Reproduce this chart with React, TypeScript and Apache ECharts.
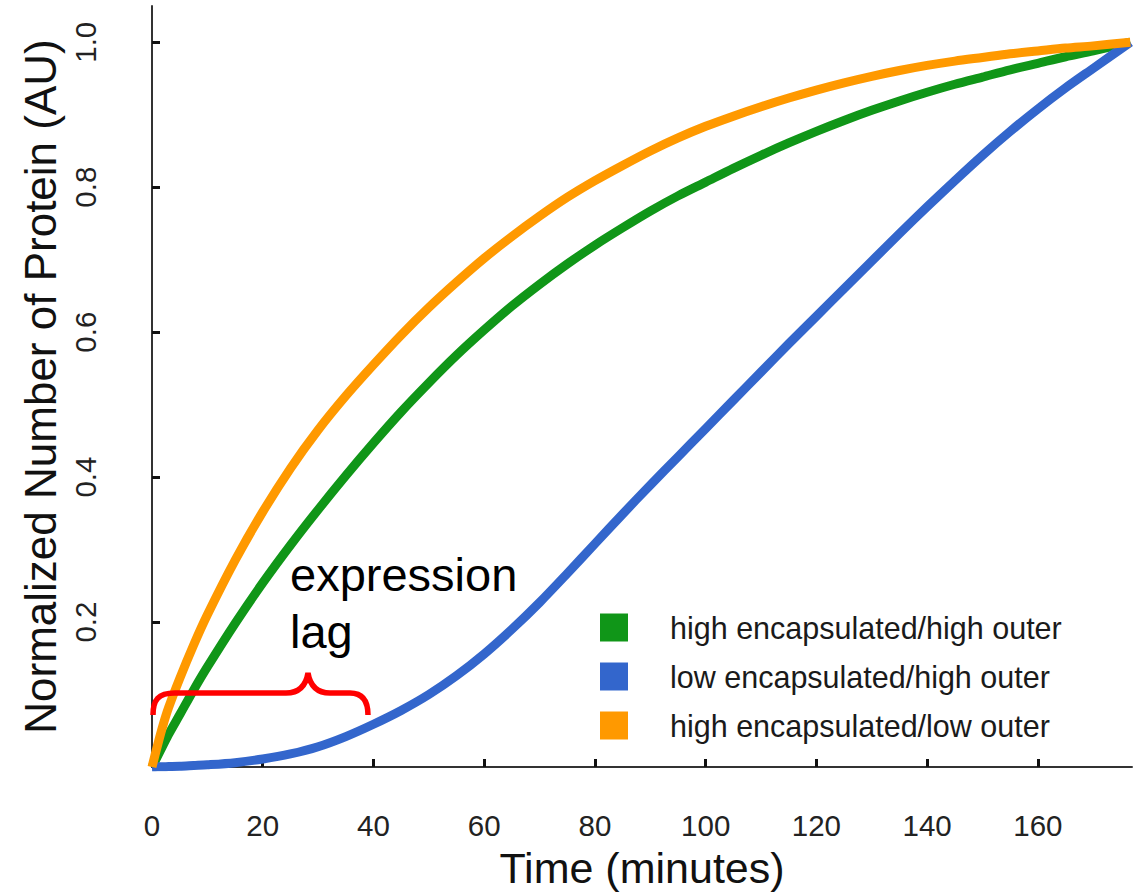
import React, { useEffect, useRef } from "react";
import * as echarts from "echarts";

// ---- data ----
const timeMinutes = [0, 1, 2, 3, 5, 7.5, 10, 15, 20, 25, 30, 35, 40, 45, 50, 55, 60, 65, 70, 75, 80, 85, 90, 95, 100, 105, 110, 115, 120, 125, 130, 135, 140, 145, 150, 155, 160, 165, 170, 176.7];

const highEncHighOuter = [0, 0.015, 0.03, 0.045, 0.072, 0.106, 0.138, 0.198, 0.254, 0.306, 0.355, 0.402, 0.447, 0.49, 0.53, 0.568, 0.603, 0.636, 0.666, 0.694, 0.72, 0.744, 0.767, 0.788, 0.807, 0.826, 0.844, 0.861, 0.877, 0.892, 0.906, 0.919, 0.931, 0.942, 0.952, 0.962, 0.971, 0.98, 0.988, 1.0];

const lowEncHighOuter = [0, 0.0002, 0.0004, 0.0006, 0.001, 0.002, 0.003, 0.006, 0.011, 0.018, 0.028, 0.042, 0.059, 0.078, 0.1, 0.126, 0.156, 0.19, 0.227, 0.267, 0.308, 0.349, 0.389, 0.428, 0.467, 0.506, 0.545, 0.584, 0.622, 0.66, 0.698, 0.736, 0.773, 0.809, 0.844, 0.877, 0.908, 0.937, 0.964, 1.0];

const highEncLowOuter = [0, 0.03, 0.058, 0.082, 0.122, 0.168, 0.21, 0.285, 0.352, 0.412, 0.465, 0.512, 0.555, 0.596, 0.634, 0.669, 0.702, 0.732, 0.76, 0.786, 0.809, 0.83, 0.85, 0.868, 0.884, 0.898, 0.911, 0.923, 0.934, 0.944, 0.953, 0.961, 0.968, 0.974, 0.979, 0.984, 0.988, 0.992, 0.995, 1.0];

const seriesNames = [
  "high encapsulated/high outer",
  "low encapsulated/high outer",
  "high encapsulated/low outer",
];
const seriesColors = ["#109618", "#3366cc", "#ff9900"];

const xTicks = [0, 20, 40, 60, 80, 100, 120, 140, 160];
const yTicks = [0, 0.2, 0.4, 0.6, 0.8, 1.0];
const yLabels = [0.2, 0.4, 0.6, 0.8, 1.0];

const annotationLines = ["expression", "lag"];

const FONT = '"Liberation Sans", Arial, Helvetica, sans-serif';

const bracePath =
  "M153,715 C153,700 158,693 175,693 L286,693 C300,693 306,685 308,673 C310,685 316,693 330,693 L350,693 C362,693 368,700 368,715";

echarts.graphic.registerShape("brace", echarts.graphic.extendPath(bracePath, {}) as any);

const pairs = (ys: number[]) => timeMinutes.map((t, i) => [t, ys[i]]);

export default function App() {
  const ref = useRef<HTMLDivElement>(null);

  useEffect(() => {
    if (!ref.current) return;
    const chart = echarts.init(ref.current, undefined, { renderer: "svg" });
    const allSeries = [highEncHighOuter, lowEncHighOuter, highEncLowOuter];
    chart.setOption({
      animation: false,
      backgroundColor: "#ffffff",
      grid: {
        left: 152,
        right: 2,
        top: 6,
        bottom: 125,
        containLabel: false,
        outerBoundsMode: "none",
      },
      legend: {
        orient: "vertical",
        left: 600,
        top: 612,
        padding: 0,
        itemWidth: 28,
        itemHeight: 28,
        itemGap: 18,
        icon: "rect",
        data: seriesNames,
        textStyle: {
          fontFamily: FONT,
          fontSize: 30.5,
          lineHeight: 28,
          color: "#1a1a1a",
          padding: [0, 0, 0, 37],
        },
      },
      xAxis: {
        type: "value",
        min: 0,
        max: 177,
        interval: 20,
        name: "Time (minutes)",
        nameLocation: "middle",
        nameGap: 79,
        nameTextStyle: { fontFamily: FONT, fontSize: 43, color: "#111" },
        splitLine: { show: false },
        axisLine: { show: true, onZero: false, lineStyle: { color: "#333", width: 2 } },
        axisTick: {
          show: true,
          inside: true,
          length: 8,
          lineStyle: { color: "#111", width: 3 },
          customValues: xTicks,
        },
        axisLabel: {
          fontFamily: FONT,
          fontSize: 29.5,
          color: "#222",
          margin: 43,
          customValues: xTicks,
          formatter: (v: number) => String(v),
        },
      },
      yAxis: {
        type: "value",
        min: 0,
        max: 1.05,
        interval: 0.2,
        name: "Normalized Number of Protein (AU)",
        nameLocation: "middle",
        nameGap: 83,
        nameTextStyle: { fontFamily: FONT, fontSize: 44, color: "#111" },
        splitLine: { show: false },
        axisLine: { show: true, onZero: false, lineStyle: { color: "#333", width: 2 } },
        axisTick: {
          show: true,
          inside: true,
          length: 8,
          lineStyle: { color: "#111", width: 3 },
          customValues: yTicks,
        },
        axisLabel: {
          fontFamily: FONT,
          fontSize: 29.5,
          color: "#222",
          margin: 52,
          rotate: 90,
          customValues: yLabels,
          formatter: (v: number) => v.toFixed(1),
        },
      },
      series: allSeries.map((ys, i) => ({
        name: seriesNames[i],
        type: "line",
        data: pairs(ys),
        smooth: 0.3,
        showSymbol: false,
        symbol: "none",
        color: seriesColors[i],
        lineStyle: { width: 9, color: seriesColors[i], cap: "butt", join: "round" },
        z: 2 + i,
      })),
      graphic: [
        {
          type: "brace",
          x: 0,
          y: 0,
          z: 100,
          style: { stroke: "#ff0000", lineWidth: 5.5, fill: "none" },
        },
        {
          type: "text",
          x: 290,
          y: 574,
          z: 100,
          style: {
            text: annotationLines[0],
            font: `47px ${FONT}`,
            fill: "#000",
            align: "left",
            verticalAlign: "middle",
          },
        },
        {
          type: "text",
          x: 290,
          y: 631,
          z: 100,
          style: {
            text: annotationLines[1],
            font: `47px ${FONT}`,
            fill: "#000",
            align: "left",
            verticalAlign: "middle",
          },
        },
      ],
    });
    return () => chart.dispose();
  }, []);

  return (
    <div
      ref={ref}
      style={{ position: "absolute", left: 0, top: 0, width: 1134, height: 892 }}
    />
  );
}
